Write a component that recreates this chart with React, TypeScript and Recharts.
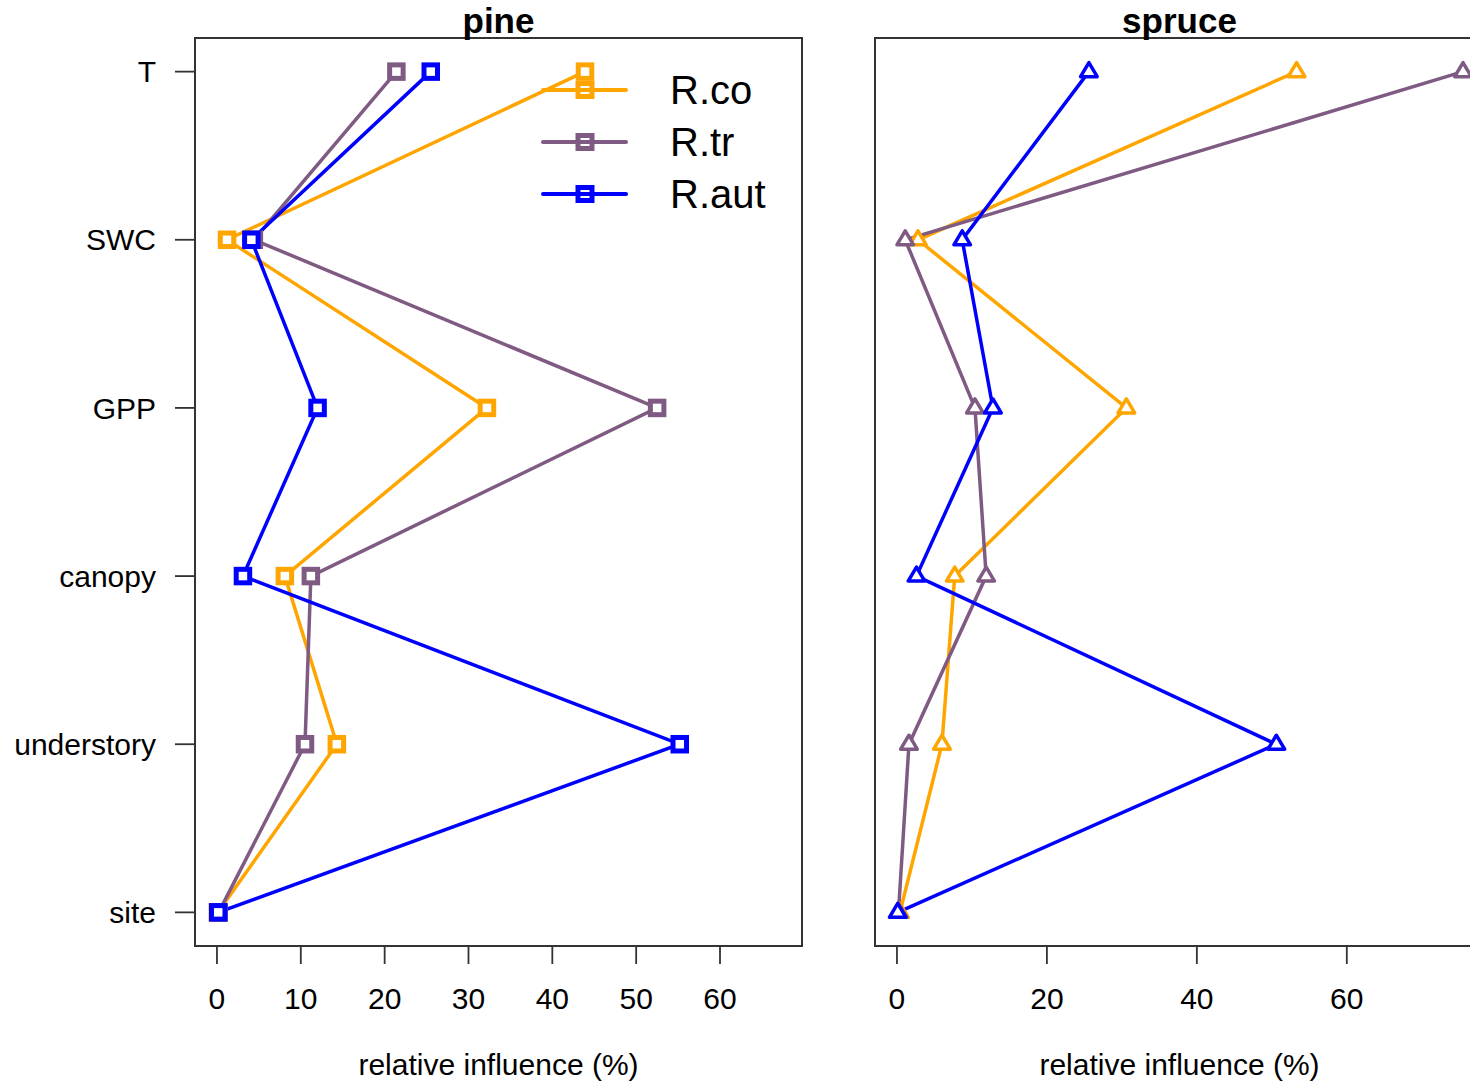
import React from 'react';
import { LineChart, Line, XAxis, YAxis, ReferenceArea, Legend, Label } from 'recharts';

// predictors, top to bottom
const predictors = ['T', 'SWC', 'GPP', 'canopy', 'understory', 'site'];

// relative influence (%) per predictor, pine
const pineRco = [43.9, 1.2, 32.2, 8.1, 14.3, 0.1];
const pineRtr = [21.4, 4.4, 52.5, 11.2, 10.5, 0.2];
const pineRaut = [25.5, 4.1, 12.0, 3.1, 55.2, 0.15];

// relative influence (%) per predictor, spruce
const spruceRco = [53.3, 2.8, 30.6, 7.7, 6.0, 0.4];
const spruceRtr = [75.5, 1.1, 10.4, 11.9, 1.6, 0.2];
const spruceRaut = [25.6, 8.7, 12.8, 2.6, 50.6, 0.1];

const pineTicks = [0, 10, 20, 30, 40, 50, 60];
const spruceTicks = [0, 20, 40, 60];
const rowTicks = [1, 2, 3, 4, 5, 6];

const ORANGE = '#ffa500';
const PURPLE = '#7f5a83';
const BLUE = '#0000ff';
const AXIS = '#333';
const FONT = '"Liberation Sans", Arial, sans-serif';

const seriesInfo = [
  { key: 'co', name: 'R.co', color: ORANGE },
  { key: 'tr', name: 'R.tr', color: PURPLE },
  { key: 'aut', name: 'R.aut', color: BLUE },
];

// vertical layout: a numeric y axis grows downwards, so T sits at 1
const buildRows = (co: number[], tr: number[], aut: number[]) =>
  predictors.map((p, i) => ({
    predictor: p,
    pos: i + 1,
    co: co[i],
    tr: tr[i],
    aut: aut[i],
  }));

const pineRows = buildRows(pineRco, pineRtr, pineRaut);
const spruceRows = buildRows(spruceRco, spruceRtr, spruceRaut);

const rowLabel = (v: number) => predictors[v - 1] ?? '';

const squareDot = (color: string) => (props: any) => {
  const { cx, cy, index } = props;
  if (cx == null || cy == null) return <g key={`sq-${index}`} />;
  return (
    <rect
      key={`sq-${index}`}
      x={cx - 6.75}
      y={cy - 6.75}
      width={13.5}
      height={13.5}
      fill="#fff"
      stroke={color}
      strokeWidth={5}
    />
  );
};

const triangleDot = (color: string) => (props: any) => {
  const { cx, cy, index } = props;
  if (cx == null || cy == null) return <g key={`tri-${index}`} />;
  const w = 8.3;
  return (
    <path
      key={`tri-${index}`}
      d={`M${cx},${cy - 9}L${cx + w},${cy + 5}L${cx - w},${cy + 5}Z`}
      fill="#fff"
      stroke={color}
      strokeWidth={3.5}
      strokeLinejoin="round"
    />
  );
};

const LegendBox = () => (
  <div style={{ fontFamily: FONT, fontSize: 40, color: '#000' }}>
    {seriesInfo.map(s => (
      <div key={s.key} style={{ display: 'flex', alignItems: 'center', height: 52 }}>
        <svg width={129} height={52} style={{ display: 'block' }}>
          <line x1={2} y1={26} x2={85} y2={26} stroke={s.color} strokeWidth={4} strokeLinecap="round" />
          <rect x={44 - 7} y={26 - 6.5} width={14} height={13} fill="none" stroke={s.color} strokeWidth={5} />
        </svg>
        <span style={{ lineHeight: '52px' }}>{s.name}</span>
      </div>
    ))}
  </div>
);

const tickStyle = { fill: '#000', fontSize: 30, fontFamily: FONT };
const tickLineStyle = { stroke: AXIS, strokeWidth: 1.8 };

const titleStyle: React.CSSProperties = {
  position: 'absolute',
  top: 3,
  textAlign: 'center',
  fontFamily: FONT,
  fontSize: 35,
  fontWeight: 'bold',
  lineHeight: '35px',
  color: '#000',
};

const App = () => {
  return (
    <div style={{ position: 'absolute', left: 0, top: 0, width: 1470, height: 1082, overflow: 'hidden', background: '#fff' }}>
      {/* pine */}
      <div style={{ position: 'absolute', left: 0, top: 0 }}>
        <LineChart layout="vertical" width={820} height={1082} data={pineRows} margin={{ top: 38, right: 18, bottom: 0, left: 0 }}>
          <XAxis
            type="number"
            domain={[-2.62, 69.78]}
            allowDataOverflow
            ticks={pineTicks}
            interval={0}
            height={136}
            tickSize={18}
            tickMargin={24}
            axisLine={false}
            stroke={AXIS}
            tickLine={tickLineStyle}
            tick={tickStyle}
          >
            <Label value="relative influence (%)" position="insideBottom" offset={7} fill="#000" fontSize={30} fontFamily={FONT} />
          </XAxis>
          <YAxis
            type="number"
            dataKey="pos"
            domain={[0.8, 6.2]}
            allowDataOverflow
            ticks={rowTicks}
            interval={0}
            width={195}
            tickSize={20}
            tickMargin={19}
            axisLine={false}
            stroke={AXIS}
            tickLine={tickLineStyle}
            tick={tickStyle}
            tickFormatter={rowLabel}
          />
          <ReferenceArea x1={-2.62} x2={69.78} y1={0.8} y2={6.2} fill="none" stroke={AXIS} strokeWidth={2} ifOverflow="visible" />
          {seriesInfo.map(s => (
            <Line
              key={s.key}
              type="linear"
              dataKey={s.key}
              name={s.name}
              stroke={s.color}
              strokeWidth={3.5}
              dot={squareDot(s.color)}
              activeDot={false}
              isAnimationActive={false}
            />
          ))}
          <Legend
            layout="vertical"
            align="center"
            verticalAlign="middle"
            wrapperStyle={{ left: 541, top: 64, width: 260 }}
            content={() => <LegendBox />}
          />
        </LineChart>
      </div>

      {/* spruce */}
      <div style={{ position: 'absolute', left: 820, top: 0 }}>
        <LineChart layout="vertical" width={680} height={1082} data={spruceRows} margin={{ top: 38, right: 16, bottom: 0, left: 0 }}>
          <XAxis
            type="number"
            domain={[-2.93, 78.3]}
            allowDataOverflow
            ticks={spruceTicks}
            interval={0}
            height={136}
            tickSize={18}
            tickMargin={24}
            axisLine={false}
            stroke={AXIS}
            tickLine={tickLineStyle}
            tick={tickStyle}
          >
            <Label value="relative influence (%)" position="insideBottom" offset={7} fill="#000" fontSize={30} fontFamily={FONT} />
          </XAxis>
          <YAxis
            type="number"
            dataKey="pos"
            domain={[0.8, 6.2]}
            allowDataOverflow
            ticks={rowTicks}
            interval={0}
            width={55}
            tickSize={18}
            axisLine={false}
            stroke={AXIS}
            tickLine={tickLineStyle}
            tick={false}
          />
          <ReferenceArea x1={-2.93} x2={78.3} y1={0.8} y2={6.2} fill="none" stroke={AXIS} strokeWidth={2} ifOverflow="visible" />
          {seriesInfo.map(s => (
            <Line
              key={s.key}
              type="linear"
              dataKey={s.key}
              name={s.name}
              stroke={s.color}
              strokeWidth={3.5}
              dot={triangleDot(s.color)}
              activeDot={false}
              isAnimationActive={false}
            />
          ))}
        </LineChart>
      </div>

      <div style={{ ...titleStyle, left: 195, width: 607 }}>pine</div>
      <div style={{ ...titleStyle, left: 875, width: 609 }}>spruce</div>
    </div>
  );
};

export default App;
